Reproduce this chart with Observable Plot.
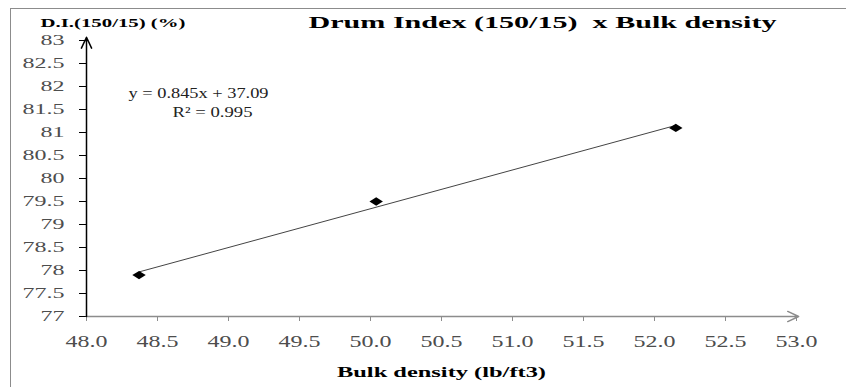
<!DOCTYPE html>
<html><head><meta charset="utf-8">
<script src="https://cdn.jsdelivr.net/npm/d3@7"></script>
<script src="https://cdn.jsdelivr.net/npm/@observablehq/plot@0.6"></script>
<style>
body{margin:0;background:#fff;}
#wrap{position:relative;width:846px;height:387px;overflow:hidden;background:#fff;}
#border{position:absolute;left:10px;top:8px;width:900px;height:450px;border:1.5px solid #8c8c8c;}
#chart{position:absolute;left:0;top:0;}
</style></head><body>
<div id="wrap"><div id="border"></div><div id="chart"></div></div>
<script>
const bulkDensity = [48.37, 50.04, 52.15];
const drumIndex = [77.9, 79.5, 81.1];
const xTicks = [48.0, 48.5, 49.0, 49.5, 50.0, 50.5, 51.0, 51.5, 52.0, 52.5, 53.0];
const yTicks = [77, 77.5, 78, 78.5, 79, 79.5, 80, 80.5, 81, 81.5, 82, 82.5, 83];
const titleText = "Drum Index (150/15)  x Bulk density";
const yLabelText = "D.I.(150/15) (%)";
const xLabelText = "Bulk density (lb/ft3)";
const equationText = "y = 0.845x + 37.09";
const r2Text = "R\u00b2 = 0.995";

const data = bulkDensity.map((x, i) => ({x, y: drumIndex[i]}));

const wideDiamond = {
  draw(ctx, size) {
    const r = Math.sqrt(size / Math.PI);
    ctx.moveTo(0, -r);
    ctx.lineTo(1.6 * r, 0);
    ctx.lineTo(0, r);
    ctx.lineTo(-1.6 * r, 0);
    ctx.closePath();
  }
};

const serif = "Liberation Serif, Times New Roman, serif";

const chart = Plot.plot({
  width: 846,
  height: 387,
  marginLeft: 86,
  marginRight: 50,
  marginTop: 40,
  marginBottom: 71,
  style: {fontFamily: serif, background: "transparent", overflow: "visible"},
  x: {domain: [xTicks[0], xTicks[xTicks.length - 1]], axis: null},
  y: {domain: [yTicks[0], yTicks[yTicks.length - 1]], axis: null},
  marks: [
    Plot.axisX({ticks: xTicks, tickFormat: d => d.toFixed(1), tickSize: 5, tickPadding: 14,
      fontSize: 16, stroke: "#8c8c8c", color: "#4d4d4d", label: null}),
    Plot.axisY({ticks: yTicks, tickFormat: d => String(d), tickSize: 7, tickPadding: 15,
      fontSize: 15, stroke: "#000", color: "#4d4d4d", label: null}),
    Plot.arrow([0], {x1: xTicks[0], y1: yTicks[0], x2: xTicks[xTicks.length - 1] + 0.015, y2: yTicks[0],
      stroke: "#8c8c8c", strokeWidth: 1.5, headLength: 12, headAngle: 50}),
    Plot.arrow([0], {x1: xTicks[0], y1: yTicks[0], x2: xTicks[0], y2: yTicks[yTicks.length - 1] + 0.07,
      stroke: "#000", strokeWidth: 1.5, headLength: 12, headAngle: 50}),
    Plot.linearRegressionY(data, {x: "x", y: "y", ci: 0, stroke: "#444", strokeWidth: 1}),
    Plot.dot(data, {x: "x", y: "y", symbol: wideDiamond, r: 4.2, fill: "#000", stroke: null}),
    Plot.text([titleText], {frameAnchor: "top-left", dx: 222, dy: -18, textAnchor: "start", lineAnchor: "middle",
      fontSize: 17, fontWeight: "bold", fill: "#000"}),
    Plot.text([yLabelText], {frameAnchor: "top-left", dx: -46, dy: -18, textAnchor: "start", lineAnchor: "middle",
      fontSize: 13, fontWeight: "bold", fill: "#000"}),
    Plot.text([xLabelText], {frameAnchor: "bottom-left", dx: 355, dy: 56, textAnchor: "middle", lineAnchor: "middle",
      fontSize: 15, fontWeight: "bold", fill: "#000"}),
    Plot.text([equationText], {frameAnchor: "top-left", dx: 42, dy: 53, textAnchor: "start", lineAnchor: "middle",
      fontSize: 14, fill: "#222"}),
    Plot.text([r2Text], {frameAnchor: "top-left", dx: 86, dy: 72, textAnchor: "start", lineAnchor: "middle",
      fontSize: 14, fill: "#222"})
  ]
});

document.getElementById("chart").appendChild(chart);

const xTickStrings = new Set(xTicks.map(d => d.toFixed(1)));
const yTickStrings = new Set(yTicks.map(d => String(d)));
const targetWidths = new Map([
  [titleText, 468], [yLabelText, 145], [xLabelText, 209], [equationText, 140], [r2Text, 80]
]);
chart.querySelectorAll("text").forEach(t => {
  const s = t.textContent;
  let w = null;
  if (targetWidths.has(s)) w = targetWidths.get(s);
  else if (xTickStrings.has(s)) w = t.getComputedTextLength() * 1.5;
  else if (yTickStrings.has(s)) w = t.getComputedTextLength() * 1.6;
  if (w != null) {
    t.setAttribute("textLength", w);
    t.setAttribute("lengthAdjust", "spacingAndGlyphs");
  }
});
</script>
</body></html>
